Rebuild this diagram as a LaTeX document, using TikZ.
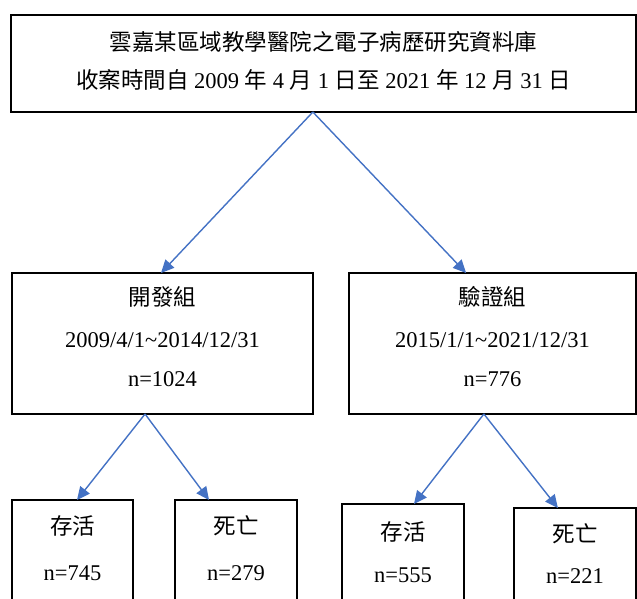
\documentclass[tikz,border=0pt]{standalone}
\usepackage{fontspec}
\setmainfont{Liberation Serif}
\newfontfamily\cjk{Noto Sans CJK TC}
\usetikzlibrary{arrows.meta,calc}
\begin{document}
\begin{tikzpicture}[x=1pt,y=-1pt,
  box/.style={draw=black,line width=1.8pt,inner sep=0pt,outer sep=0pt,anchor=north west},
  txt/.style={inner sep=0pt,text height=0.8em,text depth=0.2em,font=\fontsize{22.5}{26}\selectfont},
  conn/.style={draw={rgb,255:red,68;green,114;blue,196},line width=1.4pt,
    -{Triangle[length=13pt,width=12pt]}}]
\clip (0,0) rectangle (637,598);
\useasboundingbox (0,0) rectangle (637,598);
% boxes
\node[box,minimum width=625pt,minimum height=97pt] (top) at (11,15) {};
\node[box,minimum width=301pt,minimum height=141pt] (dev) at (12,273) {};
\node[box,minimum width=287pt,minimum height=141pt] (val) at (349,273) {};
\node[box,minimum width=121pt,minimum height=120pt] (b1) at (12,500) {};
\node[box,minimum width=122pt,minimum height=120pt] (b2) at (175,500) {};
\node[box,minimum width=122pt,minimum height=120pt] (b3) at (342,504) {};
\node[box,minimum width=122pt,minimum height=120pt] (b4) at (514,508) {};
% texts
\node[txt] (t1) at (323.5,47) {\cjk 雲嘉某區域教學醫院之電子病歷研究資料庫};
\node[txt] (t2) at (323.5,85) {{\cjk 收案時間自} 2009 {\cjk 年} 4 {\cjk 月} 1 {\cjk 日至} 2021 {\cjk 年} 12 {\cjk 月} 31 {\cjk 日}};
\node[txt] (d1) at (162.5,302) {\cjk 開發組};
\node[txt] (d2) at (162.5,344) {2009/4/1\textasciitilde 2014/12/31};
\node[txt] (d3) at (162.5,383) {n=1024};
\node[txt] (v1) at (492.5,302) {\cjk 驗證組};
\node[txt] (v2) at (492.5,344) {2015/1/1\textasciitilde 2021/12/31};
\node[txt] (v3) at (492.5,383) {n=776};
\node[txt] (s1) at (72.5,531) {\cjk 存活};
\node[txt] (s2) at (72.5,577) {n=745};
\node[txt] (m1) at (236,531) {\cjk 死亡};
\node[txt] (m2) at (236,577) {n=279};
\node[txt] (r1) at (403,537) {\cjk 存活};
\node[txt] (r2) at (403,579) {n=555};
\node[txt] (q1) at (575,539) {\cjk 死亡};
\node[txt] (q2) at (575,580) {n=221};
% connectors
\draw[conn] ($(top.south west)!0.483!(top.south east)$) -- ($(dev.north west)!0.495!(dev.north east)$);
\draw[conn] ($(top.south west)!0.483!(top.south east)$) -- ($(val.north west)!0.408!(val.north east)$);
\draw[conn] ($(dev.south west)!0.442!(dev.south east)$) -- ($(b1.north west)!0.537!(b1.north east)$);
\draw[conn] ($(dev.south west)!0.442!(dev.south east)$) -- ($(b2.north west)!0.279!(b2.north east)$);
\draw[conn] ($(val.south west)!0.470!(val.south east)$) -- ($(b3.north west)!0.59!(b3.north east)$);
\draw[conn] ($(val.south west)!0.470!(val.south east)$) -- ($(b4.north west)!0.36!(b4.north east)$);
\end{tikzpicture}
\end{document}
